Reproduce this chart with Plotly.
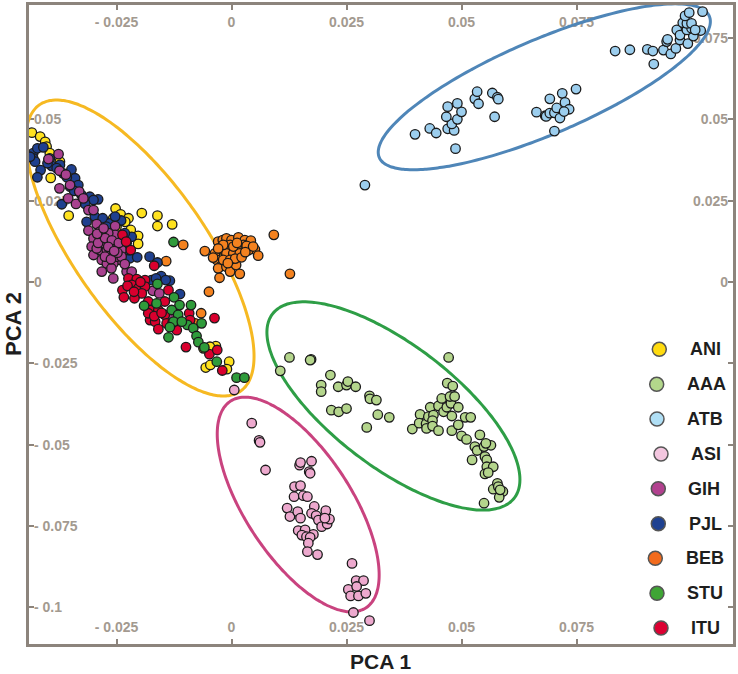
import numpy as np
import plotly.graph_objects as go

ANI_x = [-0.0434,-0.0416,-0.0405,-0.0402,-0.0395,-0.0393,-0.0373,-0.0354,-0.0252,-0.0257,-0.0241,-0.0224,-0.0231,-0.0219,-0.0203,-0.0203,-0.0195,-0.0161,-0.0161,-0.0129,-0.0034,-0.0047,-0.0056,-0.0046,-0.0005,-0.0010,-0.0061,-0.0250]
ANI_y = [0.0459,0.0447,0.0431,0.0416,0.0396,0.0320,0.0370,0.0204,0.0226,0.0196,0.0208,0.0196,0.0185,0.0160,0.0142,0.0117,0.0212,0.0204,0.0172,0.0177,-0.0197,-0.0199,-0.0263,-0.0255,-0.0245,-0.0268,-0.0204,0.0170]

AAA_x = [0.0106,0.0126,0.0173,0.0171,0.0215,0.0195,0.0195,0.0232,0.0250,0.0253,0.0270,0.0217,0.0233,0.0250,0.0300,0.0301,0.0315,0.0318,0.0343,0.0294,0.0393,0.0410,0.0408,0.0423,0.0424,0.0432,0.0428,0.0439,0.0437,0.0437,0.0450,0.0450,0.0457,0.0461,0.0468,0.0477,0.0475,0.0485,0.0493,0.0479,0.0479,0.0493,0.0469,0.0481,0.0472,0.0508,0.0520,0.0500,0.0511,0.0540,0.0529,0.0534,0.0549,0.0564,0.0553,0.0523,0.0551,0.0555,0.0555,0.0569,0.0551,0.0558,0.0569,0.0578,0.0580,0.0590,0.0582,0.0584,0.0549]
AAA_y = [-0.0273,-0.0232,-0.0238,-0.0240,-0.0286,-0.0317,-0.0337,-0.0322,-0.0317,-0.0306,-0.0322,-0.0394,-0.0399,-0.0389,-0.0350,-0.0359,-0.0363,-0.0408,-0.0416,-0.0447,-0.0452,-0.0407,-0.0434,-0.0436,-0.0450,-0.0385,-0.0414,-0.0409,-0.0426,-0.0443,-0.0381,-0.0457,-0.0358,-0.0399,-0.0385,-0.0373,-0.0352,-0.0352,-0.0385,-0.0412,-0.0457,-0.0439,-0.0311,-0.0320,-0.0232,-0.0416,-0.0416,-0.0473,-0.0484,-0.0470,-0.0506,-0.0518,-0.0506,-0.0502,-0.0496,-0.0547,-0.0537,-0.0547,-0.0568,-0.0568,-0.0590,-0.0586,-0.0637,-0.0619,-0.0629,-0.0644,-0.0662,-0.0639,-0.0680]

ATB_x = [0.0290,0.0399,0.0431,0.0445,0.0470,0.0484,0.0479,0.0491,0.0467,0.0500,0.0470,0.0491,0.0487,0.0529,0.0537,0.0534,0.0567,0.0578,0.0580,0.0572,0.0663,0.0682,0.0684,0.0692,0.0702,0.0707,0.0692,0.0719,0.0725,0.0734,0.0714,0.0723,0.0749,0.0702,0.0834,0.0866,0.0904,0.0916,0.0918,0.0939,0.0955,0.0966,0.0946,0.0948,0.0975,0.0992,0.0968,0.0975,0.1004,0.1020,0.0990,0.1000,0.0981,0.0990,0.1000,0.0986,0.0995,0.1024,0.1008]
ATB_y = [0.0298,0.0454,0.0472,0.0458,0.0471,0.0466,0.0486,0.0500,0.0508,0.0523,0.0539,0.0549,0.0410,0.0563,0.0548,0.0585,0.0581,0.0568,0.0562,0.0508,0.0522,0.0511,0.0509,0.0519,0.0520,0.0535,0.0563,0.0580,0.0552,0.0531,0.0504,0.0524,0.0593,0.0464,0.0710,0.0714,0.0715,0.0710,0.0670,0.0713,0.0701,0.0718,0.0739,0.0746,0.0744,0.0733,0.0775,0.0759,0.0756,0.0773,0.0775,0.0780,0.0797,0.0795,0.0795,0.0818,0.0828,0.0831,0.0775]

ASI_x = [0.0006,0.0044,0.0060,0.0062,0.0074,0.0148,0.0150,0.0174,0.0169,0.0171,0.0137,0.0150,0.0136,0.0156,0.0165,0.0121,0.0127,0.0144,0.0150,0.0180,0.0174,0.0184,0.0189,0.0205,0.0196,0.0208,0.0213,0.0203,0.0145,0.0160,0.0153,0.0163,0.0178,0.0171,0.0167,0.0165,0.0187,0.0262,0.0271,0.0287,0.0254,0.0259,0.0276,0.0292,0.0272,0.0265,0.0300]
ASI_y = [-0.0332,-0.0434,-0.0487,-0.0493,-0.0578,-0.0563,-0.0555,-0.0551,-0.0583,-0.0588,-0.0629,-0.0626,-0.0660,-0.0657,-0.0660,-0.0695,-0.0721,-0.0706,-0.0726,-0.0690,-0.0711,-0.0718,-0.0732,-0.0703,-0.0752,-0.0744,-0.0729,-0.0726,-0.0764,-0.0762,-0.0778,-0.0783,-0.0776,-0.0785,-0.0803,-0.0829,-0.0838,-0.0865,-0.0918,-0.0918,-0.0945,-0.0965,-0.0965,-0.0957,-0.0936,-0.1016,-0.1041]

BEB_x = [-0.0105,-0.0142,-0.0058,-0.0049,-0.0066,-0.0079,0.0092,0.0127,-0.0029,-0.0019,-0.0011,0.0000,0.0015,0.0029,0.0042,0.0051,0.0058,0.0037,0.0026,0.0011,-0.0003,-0.0021,-0.0036,-0.0032,-0.0025,-0.0029,-0.0026,-0.0011,-0.0003,0.0010,0.0018,-0.0011,0.0004,0.0018,0.0033,0.0047,-0.0018,-0.0003,0.0004,-0.0018,-0.0029,0.0008,0.0022,-0.0008,0.0012,0.0030,-0.0040]
BEB_y = [0.0114,0.0064,0.0095,-0.0030,-0.0096,-0.0127,0.0145,0.0025,0.0124,0.0129,0.0134,0.0129,0.0137,0.0129,0.0127,0.0100,0.0081,0.0098,0.0114,0.0109,0.0114,0.0100,0.0088,0.0068,0.0047,0.0042,0.0013,0.0047,0.0032,0.0052,0.0025,0.0088,0.0088,0.0088,0.0111,0.0109,0.0068,0.0068,0.0109,0.0114,0.0103,0.0072,0.0076,0.0058,0.0120,0.0092,0.0075]

PJL_x = [-0.0431,-0.0431,-0.0422,-0.0409,-0.0427,-0.0415,-0.0422,-0.0395,-0.0391,-0.0373,-0.0366,-0.0348,-0.0340,-0.0333,-0.0351,-0.0326,-0.0308,-0.0290,-0.0300,-0.0369,-0.0315,-0.0297,-0.0280,-0.0264,-0.0240,-0.0253,-0.0217,-0.0221,-0.0224,-0.0205,-0.0178,-0.0161,-0.0174,-0.0153,-0.0134,-0.0112,-0.0164,-0.0143,-0.0438,-0.0400,-0.0380,-0.0358,-0.0342,-0.0318,-0.0228,-0.0232,-0.0272]
PJL_y = [0.0396,0.0380,0.0411,0.0414,0.0370,0.0344,0.0322,0.0380,0.0357,0.0360,0.0334,0.0346,0.0319,0.0298,0.0293,0.0267,0.0262,0.0254,0.0252,0.0239,0.0185,0.0201,0.0196,0.0180,0.0189,0.0201,0.0139,0.0073,0.0098,0.0076,0.0078,0.0060,0.0006,0.0018,0.0004,-0.0037,0.0011,0.0006,0.0385,0.0365,0.0350,0.0322,0.0280,0.0240,0.0120,0.0150,0.0170]

GIH_x = [-0.0376,-0.0398,-0.0374,-0.0360,-0.0351,-0.0374,-0.0355,-0.0338,-0.0331,-0.0322,-0.0311,-0.0300,-0.0311,-0.0293,-0.0286,-0.0253,-0.0253,-0.0268,-0.0300,-0.0304,-0.0300,-0.0282,-0.0286,-0.0268,-0.0250,-0.0264,-0.0279,-0.0239,-0.0242,-0.0257,-0.0271,-0.0282,-0.0261,-0.0257,-0.0228,-0.0217,-0.0250,-0.0293,-0.0271,-0.0239,-0.0171,-0.0157,-0.0130,-0.0286,-0.0290,-0.0275,-0.0260,-0.0245,-0.0275,-0.0262,-0.0248,-0.0292,-0.0278,-0.0232,-0.0268,-0.0255]
GIH_y = [0.0393,0.0378,0.0342,0.0330,0.0298,0.0288,0.0257,0.0240,0.0278,0.0257,0.0221,0.0221,0.0158,0.0178,0.0155,0.0172,0.0145,0.0150,0.0134,0.0109,0.0083,0.0068,0.0098,0.0124,0.0109,0.0088,0.0119,0.0098,0.0068,0.0057,0.0057,0.0032,0.0042,0.0011,0.0032,0.0032,0.0078,0.0103,0.0098,0.0078,-0.0027,-0.0035,-0.0107,0.0139,0.0120,0.0135,0.0128,0.0120,0.0078,0.0070,0.0090,0.0148,0.0165,0.0055,0.0108,0.0095]

ITU_x = [-0.0237,-0.0219,-0.0229,-0.0168,-0.0224,-0.0206,-0.0188,-0.0237,-0.0234,-0.0217,-0.0203,-0.0188,-0.0195,-0.0211,-0.0181,-0.0177,-0.0159,-0.0145,-0.0137,-0.0177,-0.0145,-0.0166,-0.0159,-0.0119,-0.0141,-0.0092,-0.0090,-0.0037,-0.0099,-0.0048,-0.0031,-0.0020,-0.0181,-0.0226,-0.0212,-0.0198,-0.0168,-0.0152,-0.0128]
ITU_y = [0.0145,0.0098,0.0124,0.0050,0.0011,0.0009,0.0006,-0.0025,-0.0047,-0.0009,-0.0020,-0.0014,-0.0035,-0.0050,-0.0060,-0.0086,-0.0086,-0.0060,-0.0025,-0.0117,-0.0101,-0.0122,-0.0145,-0.0148,-0.0127,-0.0096,-0.0117,-0.0111,-0.0200,-0.0222,-0.0209,-0.0272,-0.0096,-0.0012,-0.0030,0.0000,-0.0105,-0.0095,-0.0125]

STU_x = [-0.0126,-0.0190,-0.0161,-0.0163,-0.0125,-0.0113,-0.0130,-0.0116,-0.0088,-0.0126,-0.0134,-0.0137,-0.0096,-0.0083,-0.0076,-0.0072,-0.0059,-0.0065,-0.0032,0.0011,0.0028,-0.0108]
STU_y = [0.0123,-0.0073,-0.0006,-0.0066,-0.0047,-0.0071,-0.0086,-0.0101,-0.0071,-0.0122,-0.0139,-0.0170,-0.0132,-0.0142,-0.0166,-0.0185,-0.0201,-0.0127,-0.0245,-0.0294,-0.0294,-0.0122]

group_names = ["ANI","AAA","ATB","ASI","GIH","PJL","BEB","STU","ITU"]
marker_colors = {"ANI":"#FFE21F","AAA":"#B4D58C","ATB":"#9CCEEE","ASI":"#EDA9CE","GIH":"#A8418F","PJL":"#1F408F","BEB":"#F4821F","STU":"#2F9B3B","ITU":"#D9002E"}
legend_colors = {"ANI":"#FFDB0F","AAA":"#B3D78B","ATB":"#B0DFF5","ASI":"#F3C6DF","GIH":"#B2418F","PJL":"#1E4191","BEB":"#F26B1D","STU":"#3FA535","ITU":"#DC0032"}
series = {"ANI":(ANI_x,ANI_y),"AAA":(AAA_x,AAA_y),"ATB":(ATB_x,ATB_y),"ASI":(ASI_x,ASI_y),"BEB":(BEB_x,BEB_y),
          "PJL":(PJL_x,PJL_y),"GIH":(GIH_x,GIH_y),"ITU":(ITU_x,ITU_y),"STU":(STU_x,STU_y)}

x_ticks = [-0.025,0,0.025,0.05,0.075]
x_labels = ["- 0.025","0","0.025","0.05","0.075"]
y_ticks = [0.05,0.025,0,-0.025,-0.05,-0.075,-0.1]
y_labels_left = ["0.05","0.025","0","- 0.025","- 0.05","- 0.075","- 0.1"]
y_ticks_right = [0.075,0.05,0.025,0,-0.025,-0.05,-0.075,-0.1]
y_labels_right = ["0.075","0.05","0.025","0","","","",""]

# ellipse: centre x, centre y, half width, half height, phase (degrees)
ellipses = [("#F6B922",-0.0199,0.01045,0.0248,0.0455,47),
            ("#4F86B8",0.0680,0.0600,0.0361,0.0255,-52),
            ("#2E9E46",0.0352,-0.0381,0.0275,0.0320,45),
            ("#C9437F",0.0145,-0.0684,0.0176,0.0330,41)]

W,H = 738,674
L,R,T,B = 29,733,5,644
x_range = [(L-231.5)/4600,(R-231.5)/4600]
y_range = [(282-B)/3253,(282-T)/3253]
FRAME = "#8C847C"
TICKFONT = dict(family="Liberation Sans",size=14,color="#A39A90",weight=700)

fig = go.Figure()
t = np.linspace(0,2*np.pi,181)
for color,cx,cy,hx,hy,phi in ellipses:
    fig.add_trace(go.Scatter(x=cx+hx*np.cos(t),y=cy-hy*np.sin(t+np.radians(phi)),mode="lines",
        line=dict(color=color,width=3,shape="spline"),showlegend=False,hoverinfo="skip"))
for name,(xs,ys) in series.items():
    fig.add_trace(go.Scatter(x=xs,y=ys,mode="markers",name=name,showlegend=False,hoverinfo="name",
        marker=dict(size=9.5,color=marker_colors[name],line=dict(color="#1A1A1A",width=1.3))))

fig.add_trace(go.Scatter(x=[x_ticks[0]],y=[y_ticks[0]],xaxis="x2",yaxis="y2",mode="markers",
    marker=dict(opacity=0),showlegend=False,hoverinfo="skip"))

axis_common = dict(showgrid=False,zeroline=False,ticks="inside",ticklen=5,tickwidth=1.5,tickcolor=FRAME,
    showline=True,linecolor=FRAME,linewidth=2.5,layer="below traces",tickfont=TICKFONT,
    ticklabelposition="inside",tickmode="array")
fig.update_layout(
    width=W,height=H,autosize=False,
    margin=dict(l=L,r=W-R,t=T,b=H-B,pad=0),
    paper_bgcolor="white",plot_bgcolor="white",
    xaxis=dict(range=x_range,tickvals=x_ticks,ticktext=x_labels,side="bottom",ticklabelstandoff=4,**axis_common),
    xaxis2=dict(range=x_range,tickvals=x_ticks,ticktext=x_labels,side="top",overlaying="x",anchor="y",ticklabelstandoff=7,**axis_common),
    yaxis=dict(range=y_range,tickvals=y_ticks,ticktext=y_labels_left,side="left",**axis_common),
    yaxis2=dict(range=y_range,tickvals=y_ticks_right,ticktext=y_labels_right,side="right",overlaying="y",anchor="x",**axis_common),
)

def xp(px): return (px-L)/(R-L)
def yp(py): return (B-py)/(B-T)

legend_marker_px = [659.3,656.7,657,661,658.3,658.3,655.3,657,661]
legend_text_px = [705,706.7,705.3,706,704.3,705,705,705,705]
legend_y_px = [349.3,384.3,419,454,488.7,523.7,558.3,593.3,628]
r = 7
for name,mx,tx,my in zip(group_names,legend_marker_px,legend_text_px,legend_y_px):
    fig.add_shape(type="circle",xref="paper",yref="paper",x0=xp(mx-r),x1=xp(mx+r),y0=yp(my+r),y1=yp(my-r),
        fillcolor=legend_colors[name],line=dict(color="#555555",width=1.5))
    fig.add_annotation(text=f"<b>{name}</b>",xref="paper",yref="paper",x=xp(tx),y=yp(my),showarrow=False,
        font=dict(family="Liberation Sans",size=18,color="#1E1E1E"),xanchor="center",yanchor="middle")

fig.add_annotation(text="<b>PCA 1</b>",xref="paper",yref="paper",x=xp(380.5),y=yp(661),showarrow=False,
    font=dict(family="Liberation Sans",size=21,color="#1E1E1E"),xanchor="center",yanchor="middle")
fig.add_annotation(text="<b>PCA 2</b>",xref="paper",yref="paper",x=xp(13),y=yp(324),showarrow=False,textangle=-90,
    font=dict(family="Liberation Sans",size=22,color="#1E1E1E"),xanchor="center",yanchor="middle")

fig.write_html("out.html",config=dict(displayModeBar=False),
    post_script="document.body.style.margin='0';document.body.style.overflow='hidden';")
